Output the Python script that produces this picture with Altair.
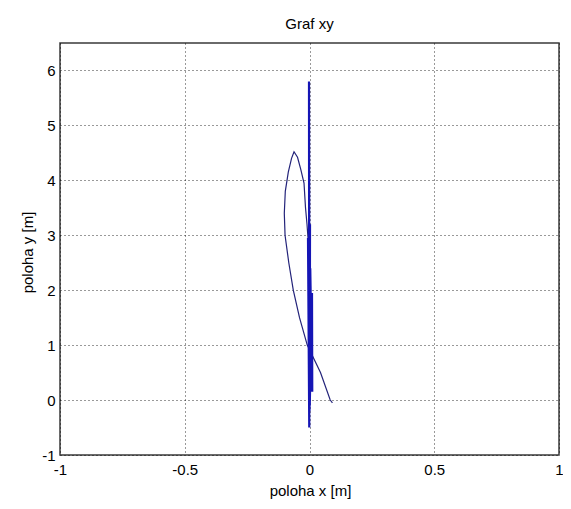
import altair as alt
import pandas as pd

# Curved part of the trajectory (ordered)
curve_x = [0.092, 0.083, 0.044, -0.009, -0.040, -0.065, -0.083, -0.098, -0.101, -0.097,
           -0.085, -0.072, -0.062, -0.048, -0.035, -0.022, -0.016, -0.010, -0.006]
curve_y = [-0.05, 0.00, 0.50, 1.00, 1.50, 2.00, 2.50, 3.00, 3.40, 3.80,
           4.15, 4.40, 4.52, 4.42, 4.20, 3.95, 3.50, 3.20, 2.95]

# Near-vertical oscillating part along x ~ 0 (ordered)
vert_x = [-0.006, -0.001, -0.002, 0.000, 0.002, 0.001, 0.010, 0.011, 0.003, 0.002]
vert_y = [2.95, -0.50, 5.80, -0.20, 3.20, -0.10, 1.95, 0.15, 2.40, 0.90]

x_ticks = [-1, -0.5, 0, 0.5, 1]
y_ticks = [-1, 0, 1, 2, 3, 4, 5, 6]

curve = pd.DataFrame({"x": curve_x, "y": curve_y, "i": range(len(curve_x))})
vert = pd.DataFrame({"x": vert_x, "y": vert_y, "i": range(len(vert_x))})

FONT = "Liberation Sans"

xenc = alt.X("x:Q", scale=alt.Scale(domain=[-1, 1], nice=False, zero=False),
             axis=alt.Axis(values=x_ticks, labelExpr="'' + datum.value", title="poloha x [m]",
                           titleX=250, titleY=35, titleBaseline="middle",
                           labelPadding=7, labelFlush=False))
yenc = alt.Y("y:Q", scale=alt.Scale(domain=[-1, 6.5], nice=False, zero=False),
             axis=alt.Axis(values=y_ticks, labelExpr="'' + datum.value", title="poloha y [m]",
                           titleX=-33, titleY=209, titleBaseline="middle",
                           labelPadding=5, labelFlush=False))

l1 = alt.Chart(curve).mark_line(color="#23237a", strokeWidth=1.2).encode(
    x=xenc, y=yenc, order="i:Q")
l2 = alt.Chart(vert).mark_line(color="#1515b5", strokeWidth=2.2).encode(
    x="x:Q", y="y:Q", order="i:Q")

chart = alt.layer(l1, l2).properties(
    width=499, height=412,
    title=alt.TitleParams("Graf xy", font=FONT, fontSize=15, fontWeight="normal",
                          color="#000000", offset=11),
    autosize=alt.AutoSizeParams(type="none"),
    padding={"left": 52, "top": 35, "right": 4, "bottom": 46},
    background="#ffffff",
).configure_view(
    stroke="#3a3a3a", strokeWidth=1.5
).configure_axis(
    grid=True, gridColor="#000000", gridDash=[1, 3], gridOpacity=0.8, gridWidth=1,
    domain=False, ticks=False,
    labelFont=FONT, labelFontSize=15, labelColor="#000000",
    titleFont=FONT, titleFontSize=15, titleFontWeight="normal", titleColor="#000000",
)

chart.save("out.html", embed_options={"renderer": "svg", "actions": False})
